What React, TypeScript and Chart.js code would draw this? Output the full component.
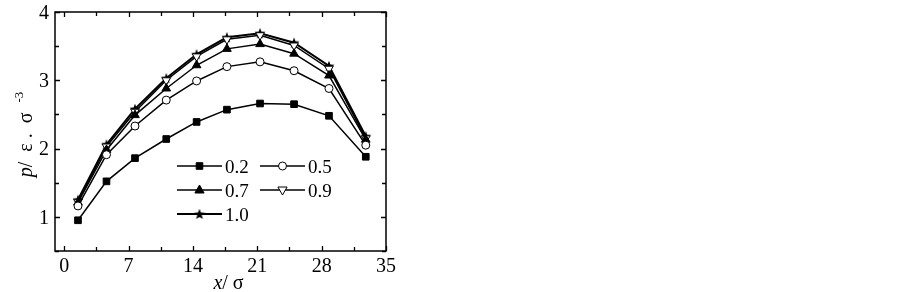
import React, { useEffect, useRef } from 'react';
import { Chart, registerables } from 'chart.js';
Chart.register(...registerables);

const xPositions = [1.5, 4.6, 7.7, 11.1, 14.4, 17.7, 21.3, 25.0, 28.8, 32.8];
const seriesLabels = ['0.2', '0.5', '0.7', '0.9', '1.0'];
const s02 = [0.95, 1.52, 1.86, 2.14, 2.39, 2.57, 2.66, 2.65, 2.48, 1.88];
const s05 = [1.16, 1.91, 2.33, 2.71, 2.99, 3.2, 3.27, 3.14, 2.88, 2.05];
const s07 = [1.21, 1.98, 2.49, 2.88, 3.22, 3.46, 3.53, 3.39, 3.07, 2.13];
const s09 = [1.22, 2.03, 2.54, 3.0, 3.35, 3.6, 3.66, 3.51, 3.17, 2.15];
const s10 = [1.25, 2.06, 2.58, 3.03, 3.38, 3.63, 3.69, 3.55, 3.21, 2.18];
const seriesValues = [s02, s05, s07, s09, s10];
const markers = ['rect', 'circle', 'triangle', 'triangleDown', 'star'];
const filled = [true, false, true, false, true];

const xMajorTicks = [0, 7, 14, 21, 28, 35];
const xMinorTicks = [3.5, 10.5, 17.5, 24.5, 31.5];
const yMajorTicks = [1, 2, 3, 4];
const yMinorTicks = [0.5, 1.5, 2.5, 3.5];
const xTickLabels = ['0', '7', '14', '21', '28', '35'];
const yTickLabels = ['1', '2', '3', '4'];

const FONT = '"Liberation Serif", "Times New Roman", serif';

function makeStar(size: number): HTMLCanvasElement {
  const c = document.createElement('canvas');
  c.width = size;
  c.height = size;
  const g = c.getContext('2d')!;
  const cx = size / 2, cy = size / 2 + 0.5, R = size / 2 - 0.3, r = R * 0.42;
  g.beginPath();
  for (let i = 0; i < 10; i++) {
    const a = -Math.PI / 2 + (i * Math.PI) / 5;
    const rr = i % 2 === 0 ? R : r;
    g.lineTo(cx + rr * Math.cos(a), cy + rr * Math.sin(a));
  }
  g.closePath();
  g.fillStyle = '#000';
  g.fill();
  return c;
}

function drawMarker(ctx: CanvasRenderingContext2D, kind: string, x: number, y: number, fill: boolean, star: HTMLCanvasElement) {
  ctx.save();
  ctx.lineWidth = 1;
  ctx.strokeStyle = '#000';
  ctx.fillStyle = fill ? '#000' : '#fff';
  ctx.beginPath();
  if (kind === 'rect') {
    ctx.rect(x - 3.3, y - 3.3, 6.6, 6.6);
  } else if (kind === 'circle') {
    ctx.arc(x, y, 4, 0, Math.PI * 2);
  } else if (kind === 'triangle') {
    ctx.moveTo(x, y - 5);
    ctx.lineTo(x + 4.6, y + 3);
    ctx.lineTo(x - 4.6, y + 3);
    ctx.closePath();
  } else if (kind === 'triangleDown') {
    ctx.moveTo(x, y + 5);
    ctx.lineTo(x + 4.6, y - 3);
    ctx.lineTo(x - 4.6, y - 3);
    ctx.closePath();
  } else if (kind === 'star') {
    ctx.drawImage(star, x - star.width / 2, y - star.height / 2);
    ctx.restore();
    return;
  }
  ctx.fill();
  ctx.stroke();
  ctx.restore();
}

export default function App() {
  const ref = useRef<HTMLCanvasElement | null>(null);

  useEffect(() => {
    document.body.style.margin = '0';
    const star = makeStar(12);
    const canvas = ref.current!;

    const datasets = seriesLabels.map((label, i) => ({
      label,
      data: xPositions.map((x, j) => ({ x, y: seriesValues[i][j] })),
      borderColor: '#000',
      borderWidth: i === 4 ? 2 : 1.5,
      backgroundColor: filled[i] ? '#000' : '#fff',
      pointBorderColor: '#000',
      pointBackgroundColor: filled[i] ? '#000' : '#fff',
      pointBorderWidth: 1,
      pointStyle: markers[i] === 'star' ? star : markers[i] === 'triangleDown' ? 'triangle' : markers[i],
      pointRotation: markers[i] === 'triangleDown' ? 180 : 0,
      pointRadius: markers[i] === 'rect' ? 4.7 : markers[i] === 'circle' ? 4 : 5,
      tension: 0,
      fill: false,
    }));

    const framePlugin = {
      id: 'frameTicks',
      afterDraw(chart: any) {
        const ctx = chart.ctx as CanvasRenderingContext2D;
        const a = chart.chartArea;
        const xs = chart.scales.x;
        const ys = chart.scales.y;
        ctx.save();
        ctx.strokeStyle = '#000';
        ctx.lineWidth = 1.5;
        ctx.strokeRect(a.left, a.top, a.right - a.left, a.bottom - a.top);
        ctx.lineWidth = 1.3;
        ctx.beginPath();
        const tickX = (v: number, len: number) => {
          const p = Math.round(xs.getPixelForValue(v)) + 0.5;
          ctx.moveTo(p, a.bottom);
          ctx.lineTo(p, a.bottom - len);
          ctx.moveTo(p, a.top);
          ctx.lineTo(p, a.top + len);
        };
        const tickY = (v: number, len: number) => {
          const p = Math.round(ys.getPixelForValue(v)) + 0.5;
          ctx.moveTo(a.left, p);
          ctx.lineTo(a.left + len, p);
          ctx.moveTo(a.right, p);
          ctx.lineTo(a.right - len, p);
        };
        xMajorTicks.forEach((v) => tickX(v, 5));
        xMinorTicks.forEach((v) => tickX(v, 4));
        yMajorTicks.forEach((v) => tickY(v, 5));
        yMinorTicks.forEach((v) => tickY(v, 4));
        ctx.stroke();
        // tick labels
        ctx.fillStyle = '#000';
        ctx.font = `20px ${FONT}`;
        ctx.textBaseline = 'alphabetic';
        ctx.textAlign = 'center';
        xMajorTicks.forEach((v, i) => {
          ctx.fillText(xTickLabels[i], xs.getPixelForValue(v), a.bottom + 21);
        });
        ctx.textAlign = 'right';
        yMajorTicks.forEach((v, i) => {
          ctx.fillText(yTickLabels[i], a.left - 6, ys.getPixelForValue(v) + 6.7);
        });
        ctx.restore();
      },
    };

    const legendPlugin = {
      id: 'innerLegend',
      afterDraw(chart: any) {
        const ctx = chart.ctx as CanvasRenderingContext2D;
        const a = chart.chartArea;
        const cols = [122, 205];
        const rows = [154, 178, 202];
        const lineLen = 45;
        ctx.save();
        ctx.font = `19px ${FONT}`;
        ctx.textBaseline = 'alphabetic';
        ctx.fillStyle = '#000';
        seriesLabels.forEach((label, i) => {
          const x0 = a.left + cols[i % 2];
          const y0 = a.top + rows[Math.floor(i / 2)];
          ctx.strokeStyle = '#000';
          ctx.lineWidth = i === 4 ? 2 : 1.5;
          ctx.beginPath();
          ctx.moveTo(x0, y0);
          ctx.lineTo(x0 + lineLen, y0);
          ctx.stroke();
          drawMarker(ctx, markers[i], x0 + lineLen / 2, y0, filled[i], star);
          ctx.fillStyle = '#000';
          ctx.fillText(label, x0 + lineLen + 3, y0 + 6.5);
        });
        ctx.restore();
      },
    };

    const titlePlugin = {
      id: 'axisTitles',
      afterDraw(chart: any) {
        const ctx = chart.ctx as CanvasRenderingContext2D;
        const a = chart.chartArea;
        ctx.save();
        ctx.fillStyle = '#000';
        ctx.textBaseline = 'alphabetic';
        ctx.textAlign = 'left';
        const it = `italic 20px ${FONT}`;
        const rg = `20px ${FONT}`;
        // x title
        ctx.font = it;
        const w1 = ctx.measureText('x').width;
        ctx.font = rg;
        const w2 = ctx.measureText('/ σ').width;
        const x = (a.left + a.right) / 2 - (w1 + w2) / 2 + 8;
        const yb = a.bottom + 38;
        ctx.font = it;
        ctx.fillText('x', x, yb);
        ctx.font = rg;
        ctx.fillText('/ σ', x + w1, yb);
        // y title
        ctx.translate(a.left - 23, (a.top + a.bottom) / 2 + 3);
        ctx.rotate(-Math.PI / 2);
        const mid = '/  ε .  σ  ';
        ctx.font = it;
        const p1 = ctx.measureText('p').width;
        ctx.font = rg;
        const p2 = ctx.measureText(mid).width;
        ctx.font = `13px ${FONT}`;
        const p3 = ctx.measureText('-3').width;
        const sx = -(p1 + p2 + p3) / 2;
        ctx.font = it;
        ctx.fillText('p', sx, 0);
        ctx.font = rg;
        ctx.fillText(mid, sx + p1, 0);
        ctx.font = `13px ${FONT}`;
        ctx.fillText('-3', sx + p1 + p2, -9);
        ctx.restore();
      },
    };

    const chart = new Chart(canvas, {
      type: 'line',
      data: { datasets: datasets as any },
      options: {
        animation: false,
        responsive: true,
        maintainAspectRatio: false,
        layout: { padding: { top: 12, right: 517, left: 0, bottom: 0 } },
        plugins: { legend: { display: false }, tooltip: { enabled: false } },
        scales: {
          x: {
            type: 'linear',
            min: -1,
            max: 35,
            grid: { display: false, drawTicks: false },
            border: { display: false },
            afterBuildTicks: (s: any) => {
              s.ticks = xMajorTicks.map((v) => ({ value: v }));
            },
            afterFit: (s: any) => {
              s.height = 41;
            },
            ticks: { display: false },
          },
          y: {
            type: 'linear',
            min: 0.5,
            max: 4,
            grid: { display: false, drawTicks: false },
            border: { display: false },
            afterBuildTicks: (s: any) => {
              s.ticks = yMajorTicks.map((v) => ({ value: v }));
            },
            afterFit: (s: any) => {
              s.width = 55;
            },
            ticks: { display: false },
          },
        },
      },
      plugins: [framePlugin, legendPlugin, titlePlugin],
    });
    return () => chart.destroy();
  }, []);

  return (
    <div style={{ position: 'relative', width: 903, height: 292, background: '#fff' }}>
      <canvas ref={ref} />
    </div>
  );
}
